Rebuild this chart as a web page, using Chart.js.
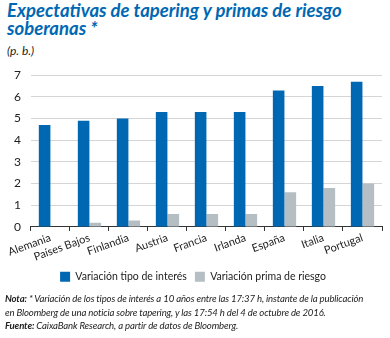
<!DOCTYPE html>
<html>
<head>
<meta charset="utf-8">
<script src="https://cdn.jsdelivr.net/npm/chart.js@4.4.0/dist/chart.umd.min.js"></script>
<style>
  body { margin: 0; background: #fff; font-family: Lato, sans-serif; }
  #wrap { position: relative; width: 390px; height: 338px; overflow: hidden; }
  #title { position: absolute; left: 7px; top: 1px; color: #0068b3; font-weight: bold; font-style: italic; font-size: 18.5px; line-height: 18px; }
  #unit { position: absolute; left: 7px; top: 43px; font-style: italic; font-size: 12px; color: #222; }
  #mycanvas { position: absolute; left: 0; top: 58px; }
  #note { position: absolute; left: 5px; top: 292px; font-style: italic; font-size: 9.6px; line-height: 13.5px; color: #222; letter-spacing: -0.15px; white-space: nowrap; }
</style>
</head>
<body>
<div id="wrap">
  <div id="title">Expectativas de tapering y primas de riesgo<br>soberanas *</div>
  <div id="unit">(p. b.)</div>
  <canvas id="mycanvas" width="390" height="237"></canvas>
  <div id="note"><b>Nota:</b> * Variación de los tipos de interés a 10 años entre las 17:37 h, instante de la publicación<br>en Bloomberg de una noticia sobre tapering, y las 17:54 h del 4 de octubre de 2016.<br><b>Fuente:</b> CaixaBank Research, a partir de datos de Bloomberg.</div>
</div>
<script>
var paises = ['Alemania', 'Países Bajos', 'Finlandia', 'Austria', 'Francia', 'Irlanda', 'España', 'Italia', 'Portugal'];
var tipoInteres = [4.7, 4.9, 5.0, 5.3, 5.3, 5.3, 6.3, 6.5, 6.7];
var primaRiesgo = [0, 0.2, 0.3, 0.6, 0.6, 0.6, 1.6, 1.8, 2.0];
var yTicks = [0, 1, 2, 3, 4, 5, 6, 7];

var ctx = document.getElementById('mycanvas');
new Chart(ctx, {
	type: 'bar',
	data: {
		labels: paises,
		datasets: [
			{ label: 'Variación tipo de interés', data: tipoInteres, backgroundColor: '#0068b3' },
			{ label: 'Variación prima de riesgo', data: primaRiesgo, backgroundColor: '#b5bfc3' }
		]
	},
	options: {
		responsive: false,
		animation: false,
		layout: { padding: { top: 14, right: 8, left: 4, bottom: 3 } },
		datasets: { bar: { categoryPercentage: 0.6, barPercentage: 0.99 } },
		plugins: {
			tooltip: { enabled: false },
			legend: {
				position: 'bottom',
				labels: { boxWidth: 10, boxHeight: 10, padding: 8, color: '#222', font: { family: 'Lato', size: 10.5 } }
			}
		},
		scales: {
			x: {
				grid: { display: true, drawOnChartArea: false, offset: true, color: '#333', tickLength: 4 },
				border: { color: '#333' },
				ticks: { color: '#222', font: { family: 'Lato', size: 11 }, autoSkip: false, minRotation: 20, maxRotation: 20, padding: 0 }
			},
			y: {
				min: 0, max: 7,
				afterBuildTicks: function(axis) { axis.ticks = yTicks.map(function(v) { return { value: v }; }); },
				grid: { color: '#d5d5d5', drawTicks: false },
				border: { display: false },
				ticks: { color: '#222', font: { family: 'Lato', size: 12 }, padding: 10 }
			}
		}
	}
});
</script>
</body>
</html>
